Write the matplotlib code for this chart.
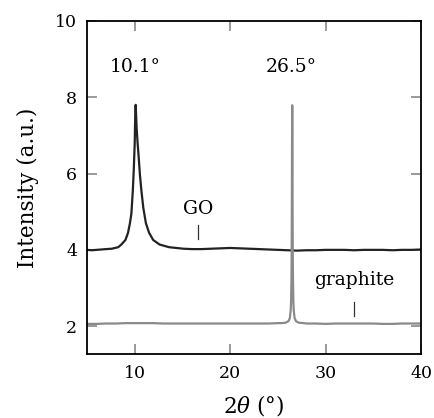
import matplotlib
matplotlib.use('Agg')
import matplotlib.pyplot as plt

# GO pattern (2theta, intensity)
go_x = [5.0, 5.5, 6.0, 6.5, 7.0, 7.6, 8.27, 8.6, 9.03, 9.3, 9.5, 9.65, 9.8, 9.9, 10.0,
        10.05, 10.1, 10.15, 10.2, 10.3, 10.4, 10.55, 10.7, 10.9, 11.17, 11.5, 11.93,
        12.6, 13.6, 15.1, 16, 17, 18, 19, 20, 21, 22, 23, 24, 25, 26, 27, 28, 29, 30,
        31, 32, 33, 34, 35, 36, 37, 38, 39, 40]
go_y = [4.00, 3.99, 4.00, 4.01, 4.02, 4.03, 4.07, 4.14, 4.26, 4.45, 4.70, 4.95, 5.55, 6.10, 6.80,
        7.50, 7.80, 7.50, 7.20, 6.80, 6.48, 5.95, 5.55, 5.10, 4.70, 4.45, 4.26,
        4.14, 4.07, 4.03, 4.02, 4.02, 4.03, 4.04, 4.05, 4.04, 4.03, 4.02, 4.01, 4.00, 3.99, 3.98,
        3.99, 3.99, 4.00, 4.00, 4.00, 3.99, 4.00, 4.00, 4.00, 3.99, 4.00, 4.00, 4.01]

# graphite pattern
gr_x = [5, 6, 7, 8, 9, 10, 11, 12, 13, 14, 15, 16, 17, 18, 19, 20, 21, 22, 23, 24, 25,
        25.3, 25.8, 26.1, 26.25, 26.34, 26.38, 26.42, 26.44, 26.46, 26.48, 26.5, 26.52,
        26.54, 26.56, 26.58, 26.62, 26.66, 26.75, 26.9, 27.2, 27.7, 28, 29, 30, 31, 32,
        33, 34, 35, 36, 37, 38, 39, 40]
gr_y = [2.06, 2.06, 2.07, 2.07, 2.08, 2.08, 2.08, 2.08, 2.07, 2.07, 2.07, 2.07, 2.07, 2.07,
        2.07, 2.07, 2.07, 2.07, 2.07, 2.07, 2.08, 2.08, 2.09, 2.13, 2.21, 2.41, 2.64, 3.21,
        3.83, 4.93, 6.65, 7.79, 6.65, 4.93, 3.83, 3.21, 2.64, 2.41, 2.21, 2.13, 2.09, 2.08,
        2.07, 2.07, 2.06, 2.07, 2.07, 2.07, 2.07, 2.07, 2.06, 2.06, 2.07, 2.07, 2.07]

peak_labels = ['10.1°', '26.5°']
peak_pos = [10.1, 26.4]
sample_labels = ['GO', 'graphite']
sample_pos = [16.6, 33.0]
sample_text_y = [5.07, 3.2]
sample_mark = [(4.28, 4.65), (2.26, 2.64)]

plt.rcParams['font.family'] = 'DejaVu Serif'
plt.rcParams['mathtext.fontset'] = 'dejavuserif'

fig = plt.figure(figsize=(4.35, 4.18), dpi=100)
ax = fig.add_axes([0.2, 0.153, 0.768, 0.797])

ax.plot(go_x, go_y, color='#222222', lw=1.6)
ax.plot(gr_x, gr_y, color='#8a8a8a', lw=1.6)

for lab, xp in zip(peak_labels, peak_pos):
    ax.text(xp, 8.79, lab, ha='center', va='center', fontsize=13.5)
for lab, xp, ty, (y0, y1) in zip(sample_labels, sample_pos, sample_text_y, sample_mark):
    ax.text(xp, ty, lab, ha='center', va='center', fontsize=13.5)
    ax.plot([xp, xp], [y0, y1], color='#333333', lw=0.9)

ax.set_xlim(5, 40)
ax.set_ylim(1.27, 10)
ax.set_xticks([10, 20, 30, 40])
ax.set_yticks([2, 4, 6, 8, 10])
ax.tick_params(direction='in', top=True, right=True, length=7, width=1.2,
               color='#888888', labelsize=12.5)
ax.tick_params(axis='x', pad=8)
ax.tick_params(axis='y', pad=7)
for s in ax.spines.values():
    s.set_linewidth(1.3)
ax.set_xlabel(r'2$\theta$ (°)', fontsize=15.5, labelpad=8)
ax.set_ylabel('Intensity (a.u.)', fontsize=15.5, labelpad=12)

fig.savefig('out.png', dpi=100)
